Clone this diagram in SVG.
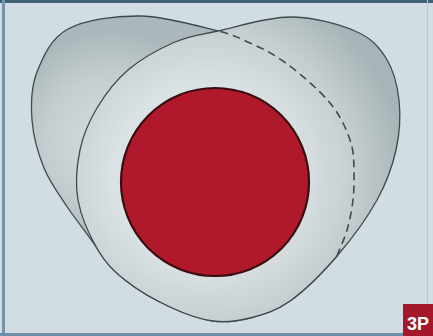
<svg xmlns="http://www.w3.org/2000/svg" width="433" height="336" viewBox="0 0 433 336">
<defs>
<style>
.outline{fill:none;stroke:#3f4a4d;stroke-width:1.3;stroke-linejoin:round;stroke-linecap:round}
.hidden{fill:none;stroke:#3f4a4d;stroke-width:1.6;stroke-dasharray:8 5}
</style>
<radialGradient id="gA" cx="110" cy="140" r="110" gradientUnits="userSpaceOnUse">
<stop offset="0" stop-color="#d6dedf"/>
<stop offset="0.6" stop-color="#c3cdcf"/>
<stop offset="1" stop-color="#abb7ba"/>
</radialGradient>
<radialGradient id="gB" cx="205" cy="175" r="200" gradientUnits="userSpaceOnUse">
<stop offset="0.45" stop-color="#dbe2e3"/>
<stop offset="0.75" stop-color="#c4ced0"/>
<stop offset="1" stop-color="#a8b4b7"/>
</radialGradient>
</defs>
<g id="background">
<rect x="0" y="0" width="433" height="336" fill="#d1dde2"/>
<rect x="0" y="0" width="433" height="3" fill="#3f6173"/>
<rect x="2" y="0" width="3" height="336" fill="#7693ad"/>
<rect x="0" y="333" width="433" height="3" fill="#6f8ea8"/>
<rect x="427" y="0" width="1" height="336" fill="#b8c8d2"/>
</g>
<g id="shape-a">
<path fill="url(#gA)" d="M218,31 C199.7,26.5 165,16.3 140,16 C115,15.7 85.2,19.7 68,29 C50.8,38.3 43,56.8 37,72 C31,87.2 30.8,104 32,120 C33.2,136 38,153.3 44,168 C50,182.7 59,194.3 68,208 C77,221.7 90.2,236.7 98,250 C105.8,263.3 113,270.5 125,280 C137,289.5 155.3,300.2 170,307 C184.7,313.8 199.7,319.2 213,321 C226.3,322.8 237.2,321.3 250,318 C262.8,314.7 275.5,311.3 290,301 C304.5,290.7 322.5,272.8 337,256 C340.3,247.3 344.3,239.3 347,230 C349.7,220.7 351.8,210 353,200 C354.2,190 354.2,178.8 354,170 C353.8,161.2 353.8,154.8 352,147 C350.2,139.2 346.7,130.3 343,123 C339.3,115.7 336,110.2 330,103 C324,95.8 315.8,87.7 307,80 C298.2,72.3 286.5,63.2 277,57 C267.5,50.8 259.8,47.3 250,43 C240.2,38.7 235.5,35.2 218,31 Z"/>
<path class="outline" d="M218,31 C199.7,26.5 165,16.3 140,16 C115,15.7 85.2,19.7 68,29 C50.8,38.3 43,56.8 37,72 C31,87.2 30.8,104 32,120 C33.2,136 38,153.3 44,168 C50,182.7 59,194.3 68,208 C77,221.7 90.2,236.7 98,250 C105.8,263.3 113,270.5 125,280 C137,289.5 155.3,300.2 170,307 C184.7,313.8 199.7,319.2 213,321 C226.3,322.8 237.2,321.3 250,318 C262.8,314.7 275.5,311.3 290,301 C304.5,290.7 322.5,272.8 337,256"/>
</g>
<g id="shape-b">
<path class="outline" style="fill:url(#gB)" d="M218,31 C237.2,26.8 267.2,17 290,17 C312.8,17 339,24.2 355,31 C371,37.8 378.7,46.5 386,58 C393.3,69.5 397.3,84.7 399,100 C400.7,115.3 399.7,133.3 396,150 C392.3,166.7 386.8,182.3 377,200 C367.2,217.7 351.5,239.2 337,256 C322.5,272.8 304.5,290.7 290,301 C275.5,311.3 262.8,314.7 250,318 C237.2,321.3 226.3,322.8 213,321 C199.7,319.2 184.7,313.8 170,307 C155.3,300.2 137,289.5 125,280 C113,270.5 105.8,263.3 98,250 C90.2,236.7 81,216.7 78,200 C75,183.3 76.8,165.3 80,150 C83.2,134.7 89,121.3 97,108 C105,94.7 115,81 128,70 C141,59 160,48.5 175,42 C190,35.5 198.8,35.2 218,31 Z"/>
</g>
<g id="hidden-edge">
<path class="hidden" d="M337,256 C340.3,247.3 344.3,239.3 347,230 C349.7,220.7 351.8,210 353,200 C354.2,190 354.2,178.8 354,170 C353.8,161.2 353.8,154.8 352,147 C350.2,139.2 346.7,130.3 343,123 C339.3,115.7 336,110.2 330,103 C324,95.8 315.8,87.7 307,80 C298.2,72.3 286.5,63.2 277,57 C267.5,50.8 259.8,47.3 250,43 C240.2,38.7 235.5,35.2 218,31"/>
</g>
<g id="core">
<circle cx="215" cy="182" r="94" fill="#b0192b" stroke="#3a0c10" stroke-width="2.2"/>
</g>
<g id="label">
<rect x="403" y="304" width="30" height="32" fill="#a3192b"/>
<text x="418" y="330" font-family="Liberation Sans, Arial, sans-serif" font-weight="bold" font-size="18" fill="#ffffff" text-anchor="middle">3P</text>
</g>
</svg>
